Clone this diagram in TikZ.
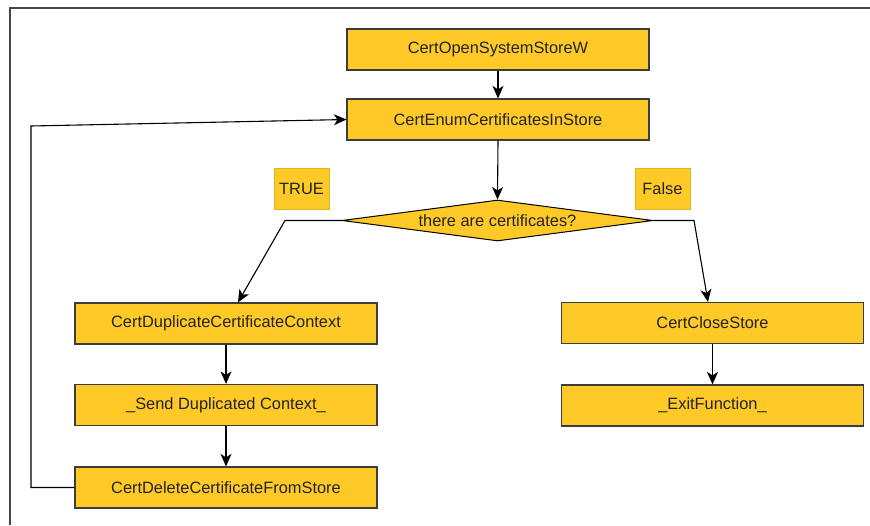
\documentclass[tikz,border=0pt]{standalone}
\usepackage{fontspec}
\setmainfont{Liberation Sans}
\usetikzlibrary{shapes.geometric,arrows.meta}
\definecolor{boxfill}{RGB}{255,202,40}
\definecolor{boxline}{RGB}{60,60,60}
\definecolor{tagline}{RGB}{225,180,30}
\definecolor{txt}{RGB}{35,35,35}
\definecolor{frameline}{RGB}{70,70,70}
\tikzset{
  boxfont/.style={font=\fontsize{16.4}{19}\selectfont},
  stepbox/.style={rectangle, draw=boxline, line width=1.2pt, fill=boxfill,
    minimum width=302pt, minimum height=41pt, inner sep=0pt,
    text=txt, boxfont},
  tagbox/.style={rectangle, draw=tagline, line width=0.8pt, fill=boxfill,
    minimum width=55pt, minimum height=41pt, inner sep=0pt,
    text=txt, boxfont},
  decision/.style={diamond, draw=black, line width=1pt, fill=boxfill,
    minimum width=311pt, minimum height=41pt, inner sep=0pt, aspect=7.6,
    text=txt, boxfont},
  flow/.style={draw=black, line width=1.1pt,
    -{Stealth[length=12.5pt,width=11pt,inset=3.5pt]}},
  link/.style={draw=black, line width=1.1pt}
}
\begin{document}
\begin{tikzpicture}[x=1pt,y=-1pt]
  \useasboundingbox (0,0) rectangle (870,525);
  % outer frame (top and left edges)
  \draw[frameline, line width=1.3pt] (10,525) -- (10,8) -- (870,8);

  % main column
  \node[stepbox] (open)  at (498,49.5)  {CertOpenSystemStoreW};
  \node[stepbox] (enum)  at (498,119.5) {CertEnumCertificatesInStore};
  \node[decision] (test) at (497.5,220.5) {there are certificates?};
  \node[tagbox] (yes) at (301.5,188.5) {TRUE};
  \node[tagbox] (no)  at (662.5,188.5) {False};

  % TRUE branch
  \node[stepbox] (dup)  at (226,323.5) {CertDuplicateCertificateContext};
  \node[stepbox] (send) at (226,405)   {\_Send Duplicated Context\_};
  \node[stepbox] (del)  at (226,487.5) {CertDeleteCertificateFromStore};

  % False branch
  \node[stepbox] (close) at (712.5,323)   {CertCloseStore};
  \node[stepbox] (exit)  at (712.5,405.5) {\_ExitFunction\_};

  % bends of the connectors
  \coordinate (lbend) at (285,220.5);
  \coordinate (rbend) at (694,220.5);
  \coordinate (loopdown) at (31,487.5);
  \coordinate (loopup) at (31,126);

  \draw[flow] (open.south) -- (enum.north);
  \draw[flow] (enum.south) -- (test.north);
  \draw[flow] (test.west) -- (lbend) -- ([xshift=12pt]dup.north);
  \draw[flow] (test.east) -- (rbend) -- ([xshift=-4.5pt]close.north);
  \draw[flow] (dup.south) -- (send.north);
  \draw[flow] (send.south) -- (del.north);
  \draw[flow] (close.south) -- (exit.north);
  \draw[flow] (del.west) -- (loopdown) -- (loopup) -- (enum.west);
\end{tikzpicture}
\end{document}
